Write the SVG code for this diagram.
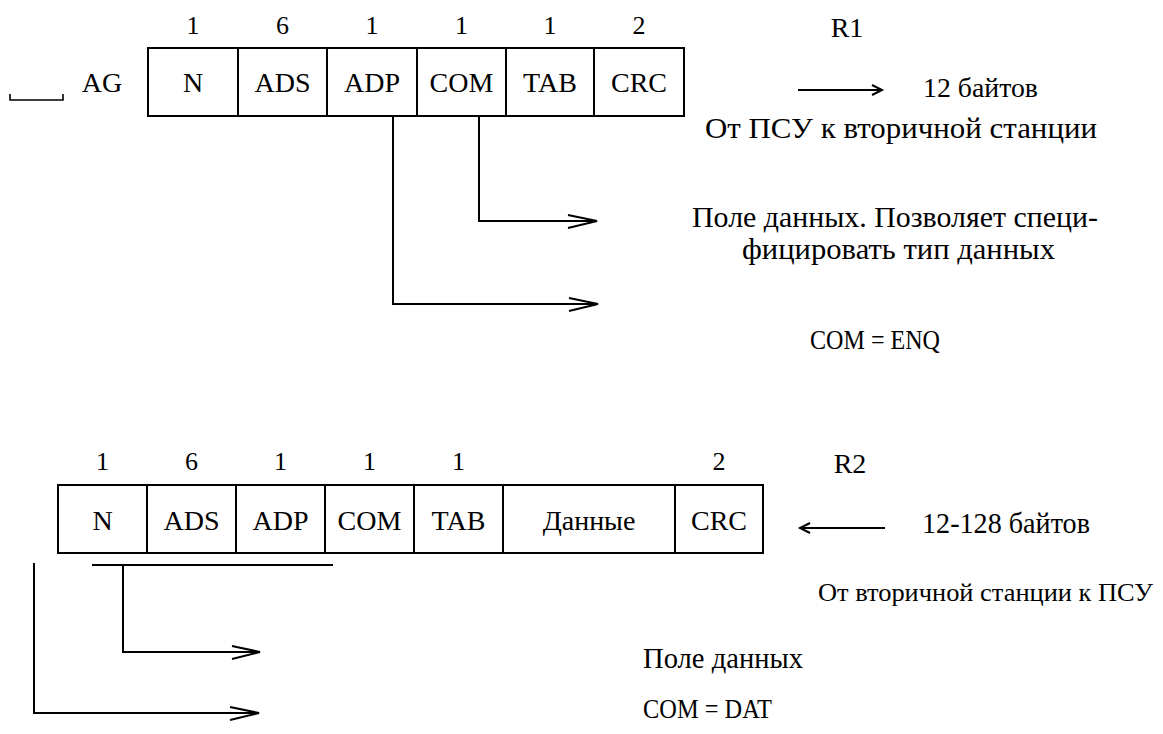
<svg xmlns="http://www.w3.org/2000/svg" width="1163" height="734" viewBox="0 0 1163 734">
<style>
text{font-family:"Liberation Serif","Times New Roman",serif;fill:#000}
.cell{font-size:28px;text-anchor:middle}
.num{font-size:26px;text-anchor:middle}
.desc{font-size:29px}
.box{fill:#fff;stroke:#000;stroke-width:2}
.ln{fill:none;stroke:#000;stroke-width:2}
.hd{fill:none;stroke:#000;stroke-width:2;stroke-linejoin:miter}
</style>
<rect width="1163" height="734" fill="#fff"/>

<g id="frame-r1">
  <path class="ln" d="M10 94 V100 H63 V94" style="stroke-width:1.6"/>
  <text class="cell" x="102" y="92">AG</text>
  <g id="r1-N"><rect class="box" x="148" y="48" width="90" height="68"/><text class="cell" x="193" y="92">N</text><text class="num" x="193" y="34">1</text></g>
  <g id="r1-ADS"><rect class="box" x="238" y="48" width="89" height="68"/><text class="cell" x="282.5" y="92">ADS</text><text class="num" x="282.5" y="34">6</text></g>
  <g id="r1-ADP"><rect class="box" x="327" y="48" width="90" height="68"/><text class="cell" x="372" y="92">ADP</text><text class="num" x="372" y="34">1</text></g>
  <g id="r1-COM"><rect class="box" x="417" y="48" width="89" height="68"/><text class="cell" x="461.5" y="92">COM</text><text class="num" x="461.5" y="34">1</text></g>
  <g id="r1-TAB"><rect class="box" x="506" y="48" width="88" height="68"/><text class="cell" x="550" y="92">TAB</text><text class="num" x="550" y="34">1</text></g>
  <g id="r1-CRC"><rect class="box" x="594" y="48" width="90" height="68"/><text class="cell" x="639" y="92">CRC</text><text class="num" x="639" y="34">2</text></g>
  <text class="cell" x="847" y="37">R1</text>
  <text class="desc" x="923" y="97" style="font-size:27px" textLength="115" lengthAdjust="spacingAndGlyphs">12 байтов</text>
  <text class="desc" x="705" y="138" textLength="392" lengthAdjust="spacingAndGlyphs">От ПСУ к вторичной станции</text>
  <text class="desc" x="692" y="227" textLength="406" lengthAdjust="spacingAndGlyphs">Поле данных. Позволяет специ-</text>
  <text class="desc" x="742" y="259" textLength="313" lengthAdjust="spacingAndGlyphs">фицировать тип данных</text>
  <text class="desc" x="810" y="349" style="font-size:27px" textLength="130" lengthAdjust="spacingAndGlyphs">COM = ENQ</text>
</g>

<g id="frame-r2">
  <g id="r2-N"><rect class="box" x="58" y="485" width="89" height="68"/><text class="cell" x="102.5" y="530">N</text><text class="num" x="102.5" y="470">1</text></g>
  <g id="r2-ADS"><rect class="box" x="147" y="485" width="89" height="68"/><text class="cell" x="191.5" y="530">ADS</text><text class="num" x="191.5" y="470">6</text></g>
  <g id="r2-ADP"><rect class="box" x="236" y="485" width="89" height="68"/><text class="cell" x="280.5" y="530">ADP</text><text class="num" x="280.5" y="470">1</text></g>
  <g id="r2-COM"><rect class="box" x="325" y="485" width="89" height="68"/><text class="cell" x="369.5" y="530">COM</text><text class="num" x="369.5" y="470">1</text></g>
  <g id="r2-TAB"><rect class="box" x="414" y="485" width="89" height="68"/><text class="cell" x="458.5" y="530">TAB</text><text class="num" x="458.5" y="470">1</text></g>
  <g id="r2-DATA"><rect class="box" x="503" y="485" width="172" height="68"/><text class="cell" x="589" y="530">Данные</text></g>
  <g id="r2-CRC"><rect class="box" x="675" y="485" width="88" height="68"/><text class="cell" x="719" y="530">CRC</text><text class="num" x="719" y="470">2</text></g>
  <text class="cell" x="850" y="473">R2</text>
  <text class="desc" x="922" y="533" textLength="168" lengthAdjust="spacingAndGlyphs">12-128 байтов</text>
  <text class="desc" x="818" y="601" style="font-size:26px" textLength="335" lengthAdjust="spacingAndGlyphs">От вторичной станции к ПСУ</text>
  <text class="desc" x="643" y="668" textLength="160" lengthAdjust="spacingAndGlyphs">Поле данных</text>
  <text class="desc" x="643" y="718" style="font-size:27px" textLength="129" lengthAdjust="spacingAndGlyphs">COM = DAT</text>
</g>

<g id="connectors">
  <path class="ln" d="M798 90 H881"/>
  <path class="hd" d="M872 85 L882 90 L872 95"/>
  <path class="ln" d="M801 528 H885"/>
  <path class="hd" d="M810 523 L800 528 L810 533"/>

  <path class="ln" d="M479 116 V221 H595"/>
  <path class="hd" d="M568 215 L597 221 L568 228"/>
  <path class="ln" d="M393 116 V304 H596"/>
  <path class="hd" d="M569 298 L598 304 L569 311"/>

  <path class="ln" d="M92 565 H333"/>
  <path class="ln" d="M123 565 V652 H258"/>
  <path class="hd" d="M232 646 L260 652 L232 659"/>
  <path class="ln" d="M34 563 V713 H257"/>
  <path class="hd" d="M230 707 L259 713 L230 720"/>
</g>
</svg>
